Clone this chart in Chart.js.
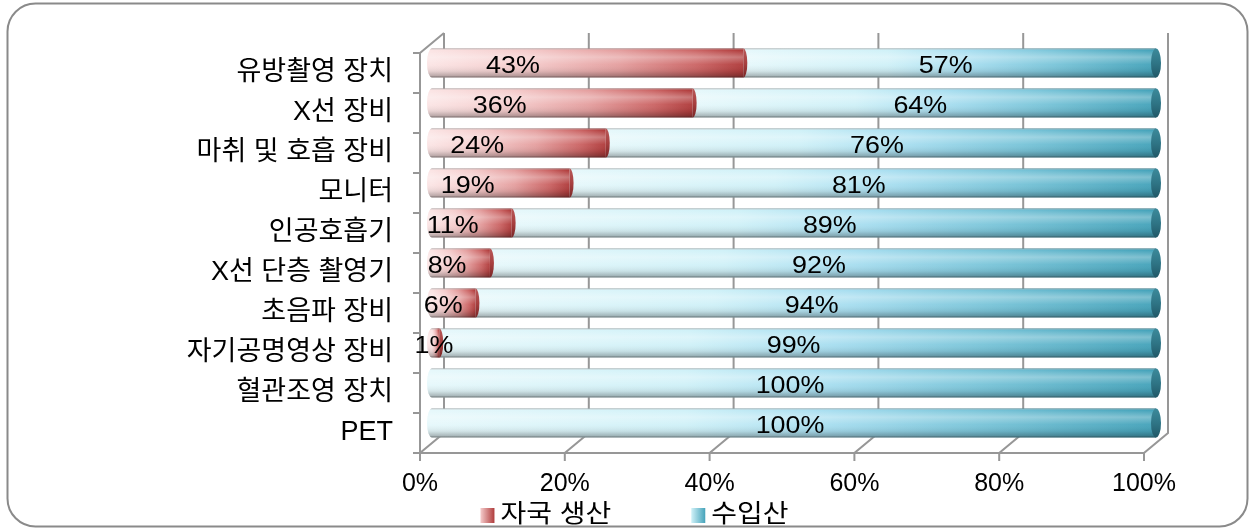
<!DOCTYPE html>
<html><head><meta charset="utf-8">
<script src="https://cdn.jsdelivr.net/npm/chart.js@4"></script>
<style>html,body{margin:0;padding:0;background:#fff;overflow:hidden}</style>
</head><body>
<canvas id="c" width="1257" height="532" style="display:block;width:1257px;height:532px"></canvas>
<script>
const categories = ['유방촬영 장치','X선 장비','마취 및 호흡 장비','모니터','인공호흡기','X선 단층 촬영기','초음파 장비','자기공명영상 장비','혈관조영 장치','PET'];
const domestic = [43,36,24,19,11,8,6,1,0,0];
const imported = [57,64,76,81,89,92,94,99,100,100];
const seriesNames = ['자국 생산','수입산'];
const xTickValues = [0,20,40,60,80,100];

const FONT = "'Liberation Sans', 'Noto Sans CJK KR', sans-serif";
const DX = 12, DY = 10, RX = 5, STRETCH = 1.12;
const redStops = [[0,'#fbe4e4'],[0.3,'#f5cccc'],[0.6,'#e5a0a0'],[0.85,'#cc6666'],[1,'#b03c3c']];
const blueStops = [[0,'#e6f8fb'],[0.35,'#d0f1f8'],[0.55,'#a8def0'],[0.75,'#7cc6da'],[1,'#45a3ba']];

function segGradient(c, stops) {
  const chart = c.chart, xs = chart.scales.x;
  if (c.type !== 'data' || !xs) return stops[2][1];
  const i = c.dataIndex, d = c.datasetIndex;
  let s = 0;
  for (let k = 0; k < d; k++) s += chart.data.datasets[k].data[i];
  const e = s + chart.data.datasets[d].data[i];
  const x0 = xs.getPixelForValue(s), x1 = xs.getPixelForValue(e);
  if (!isFinite(x0) || !isFinite(x1)) return stops[2][1];
  if (x1 - x0 < 1) return stops[0][1];
  const g = chart.ctx.createLinearGradient(x0, 0, x1, 0);
  stops.forEach(st => g.addColorStop(st[0], st[1]));
  return g;
}

function stretchedText(ctx, text, cx, cy, align) {
  ctx.save();
  ctx.translate(cx, cy);
  ctx.scale(STRETCH, 1);
  ctx.textAlign = align;
  ctx.fillText(text, 0, 0);
  ctx.restore();
}

const decor = {
  id: 'decor',
  beforeDraw(chart) {
    const ctx = chart.ctx;
    ctx.save();
    ctx.fillStyle = '#fff';
    ctx.fillRect(0, 0, chart.width, chart.height);
    ctx.strokeStyle = '#8a8a8a';
    ctx.lineWidth = 2;
    ctx.beginPath();
    ctx.roundRect(7.5, 3.5, 1240, 523, 28);
    ctx.stroke();
    ctx.restore();
  },
  beforeDatasetsDraw(chart) {
    const ctx = chart.ctx, xs = chart.scales.x, ys = chart.scales.y, a = chart.chartArea;
    ctx.save();
    ctx.strokeStyle = '#979797';
    ctx.lineWidth = 2;
    xTickValues.forEach(v => {
      const p = xs.getPixelForValue(v);
      ctx.beginPath();
      ctx.moveTo(p + DX, a.top - DY);
      ctx.lineTo(p + DX, a.bottom - DY);
      ctx.lineTo(p - DX, a.bottom + DY);
      ctx.lineTo(p - DX, a.bottom + DY + 8);
      ctx.stroke();
    });
    const p0 = xs.getPixelForValue(0), p100 = xs.getPixelForValue(100);
    ctx.beginPath();
    ctx.moveTo(p0 - DX, a.bottom + DY);
    ctx.lineTo(p100 - DX, a.bottom + DY);
    ctx.stroke();
    ctx.beginPath();
    ctx.moveTo(p0 + DX, a.top - DY);
    ctx.lineTo(p0 - DX, a.top + DY);
    ctx.lineTo(p0 - DX, a.bottom + DY);
    ctx.stroke();
    const half = (ys.getPixelForValue(1) - ys.getPixelForValue(0)) / 2;
    for (let k = 0; k <= categories.length; k++) {
      const y = ys.getPixelForValue(0) - half + k * 2 * half + DY;
      ctx.beginPath();
      ctx.moveTo(p0 - DX, y);
      ctx.lineTo(p0 - DX - 7, y);
      ctx.stroke();
    }
    ctx.restore();
  },
  afterDatasetsDraw(chart) {
    const ctx = chart.ctx;
    const m0 = chart.getDatasetMeta(0), m1 = chart.getDatasetMeta(1);
    ctx.save();
    for (let i = 0; i < categories.length; i++) {
      const e0 = m0.data[i], e1 = m1.data[i];
      if (!e0 || !e1 || !isFinite(e1.y) || !isFinite(e1.height)) continue;
      const y = e1.y, h = Math.abs(e1.height), top = y - h / 2;
      const xs0 = e0.base, xm = e0.x, xe = e1.x;
      ctx.beginPath();
      ctx.ellipse(xs0, y, RX, h / 2, 0, Math.PI / 2, Math.PI * 1.5);
      ctx.closePath();
      ctx.fillStyle = domestic[i] > 0 ? redStops[0][1] : blueStops[0][1];
      ctx.fill();
      const g = ctx.createLinearGradient(0, top, 0, top + h);
      g.addColorStop(0, 'rgba(80,80,80,0.55)');
      g.addColorStop(0.07, 'rgba(255,255,255,0.0)');
      g.addColorStop(0.3, 'rgba(255,255,255,0.3)');
      g.addColorStop(0.55, 'rgba(255,255,255,0.03)');
      g.addColorStop(0.78, 'rgba(0,0,0,0.08)');
      g.addColorStop(0.93, 'rgba(0,0,0,0.25)');
      g.addColorStop(1, 'rgba(30,30,30,0.6)');
      ctx.beginPath();
      ctx.moveTo(xs0, top);
      ctx.lineTo(xe, top);
      ctx.lineTo(xe, top + h);
      ctx.lineTo(xs0, top + h);
      ctx.ellipse(xs0, y, RX, h / 2, 0, Math.PI / 2, Math.PI * 1.5);
      ctx.closePath();
      ctx.fillStyle = g;
      ctx.fill();
      if (domestic[i] > 0) {
        const gr = ctx.createLinearGradient(0, top, 0, top + h);
        gr.addColorStop(0, '#b85a5a');
        gr.addColorStop(0.5, '#a84040');
        gr.addColorStop(1, '#7a2626');
        ctx.beginPath();
        ctx.ellipse(xm, y, RX - 1, h / 2, 0, -Math.PI / 2, Math.PI / 2);
        ctx.closePath();
        ctx.fillStyle = gr;
        ctx.fill();
      }
      const gb = ctx.createLinearGradient(0, top, 0, top + h);
      gb.addColorStop(0, '#3d8a9b');
      gb.addColorStop(0.5, '#2f7586');
      gb.addColorStop(1, '#215867');
      ctx.beginPath();
      ctx.ellipse(xe, y, RX, h / 2, 0, 0, Math.PI * 2);
      ctx.fillStyle = gb;
      ctx.fill();
      ctx.font = '24px ' + FONT;
      ctx.fillStyle = '#000';
      ctx.textBaseline = 'middle';
      if (domestic[i] > 0) {
        stretchedText(ctx, domestic[i] + '%', xs0 + (xm - xs0) * 0.26, y + 3, 'center');
      }
      if (imported[i] > 0) {
        stretchedText(ctx, imported[i] + '%', (xm + xe) / 2 - 4, y + 3, 'center');
      }
    }
    ctx.restore();
  },
  afterDraw(chart) {
    const ctx = chart.ctx;
    ctx.save();
    ctx.font = '25px ' + FONT;
    ctx.textBaseline = 'middle';
    const box = 14, gap = 6, spacing = 80;
    const w = seriesNames.map(n => ctx.measureText(n).width * STRETCH);
    const total = box + gap + w[0] + spacing + box + gap + w[1];
    let x = chart.width / 2 + 6 - total / 2;
    const yc = 515;
    const stopsArr = [redStops, blueStops];
    seriesNames.forEach((n, k) => {
      const g = ctx.createLinearGradient(x, 0, x + box, 0);
      const st = stopsArr[k];
      g.addColorStop(0, st[1][1]);
      g.addColorStop(1, st[st.length - 1][1]);
      ctx.fillStyle = g;
      ctx.fillRect(x, yc - 7, box, 15);
      ctx.fillStyle = '#000';
      stretchedText(ctx, n, x + box + gap, yc, 'left');
      x += box + gap + w[k] + spacing;
    });
    ctx.restore();
  }
};

new Chart(document.getElementById('c'), {
  type: 'bar',
  data: {
    labels: categories,
    datasets: [
      { label: seriesNames[0], data: domestic, backgroundColor: c => segGradient(c, redStops), borderWidth: 0 },
      { label: seriesNames[1], data: imported, backgroundColor: c => segGradient(c, blueStops), borderWidth: 0 }
    ]
  },
  options: {
    indexAxis: 'y',
    responsive: false,
    animation: false,
    events: [],
    categoryPercentage: 1,
    barPercentage: 0.73,
    layout: { padding: { left: 10, right: 101, top: 43, bottom: 29 } },
    plugins: { legend: { display: false }, tooltip: { enabled: false } },
    scales: {
      x: {
        stacked: true, min: 0, max: 100,
        afterFit: s => { s.height = 60; s.paddingLeft = 0; s.paddingRight = 0; },
        afterBuildTicks: s => { s.ticks = xTickValues.map(v => ({ value: v })); },
        grid: { display: false, drawTicks: false },
        border: { display: false },
        ticks: { callback: v => v + '%', color: '#000', font: { size: 25, family: FONT }, padding: 26, labelOffset: -DX, maxRotation: 0, autoSkip: false }
      },
      y: {
        stacked: true,
        afterFit: s => { s.width = 422; s.paddingTop = 0; s.paddingBottom = 0; },
        grid: { display: false, drawTicks: false },
        border: { display: false },
        ticks: { color: '#000', font: { size: 27, family: FONT }, padding: 39, labelOffset: DY, autoSkip: false }
      }
    }
  },
  plugins: [decor]
});
</script>
</body></html>
